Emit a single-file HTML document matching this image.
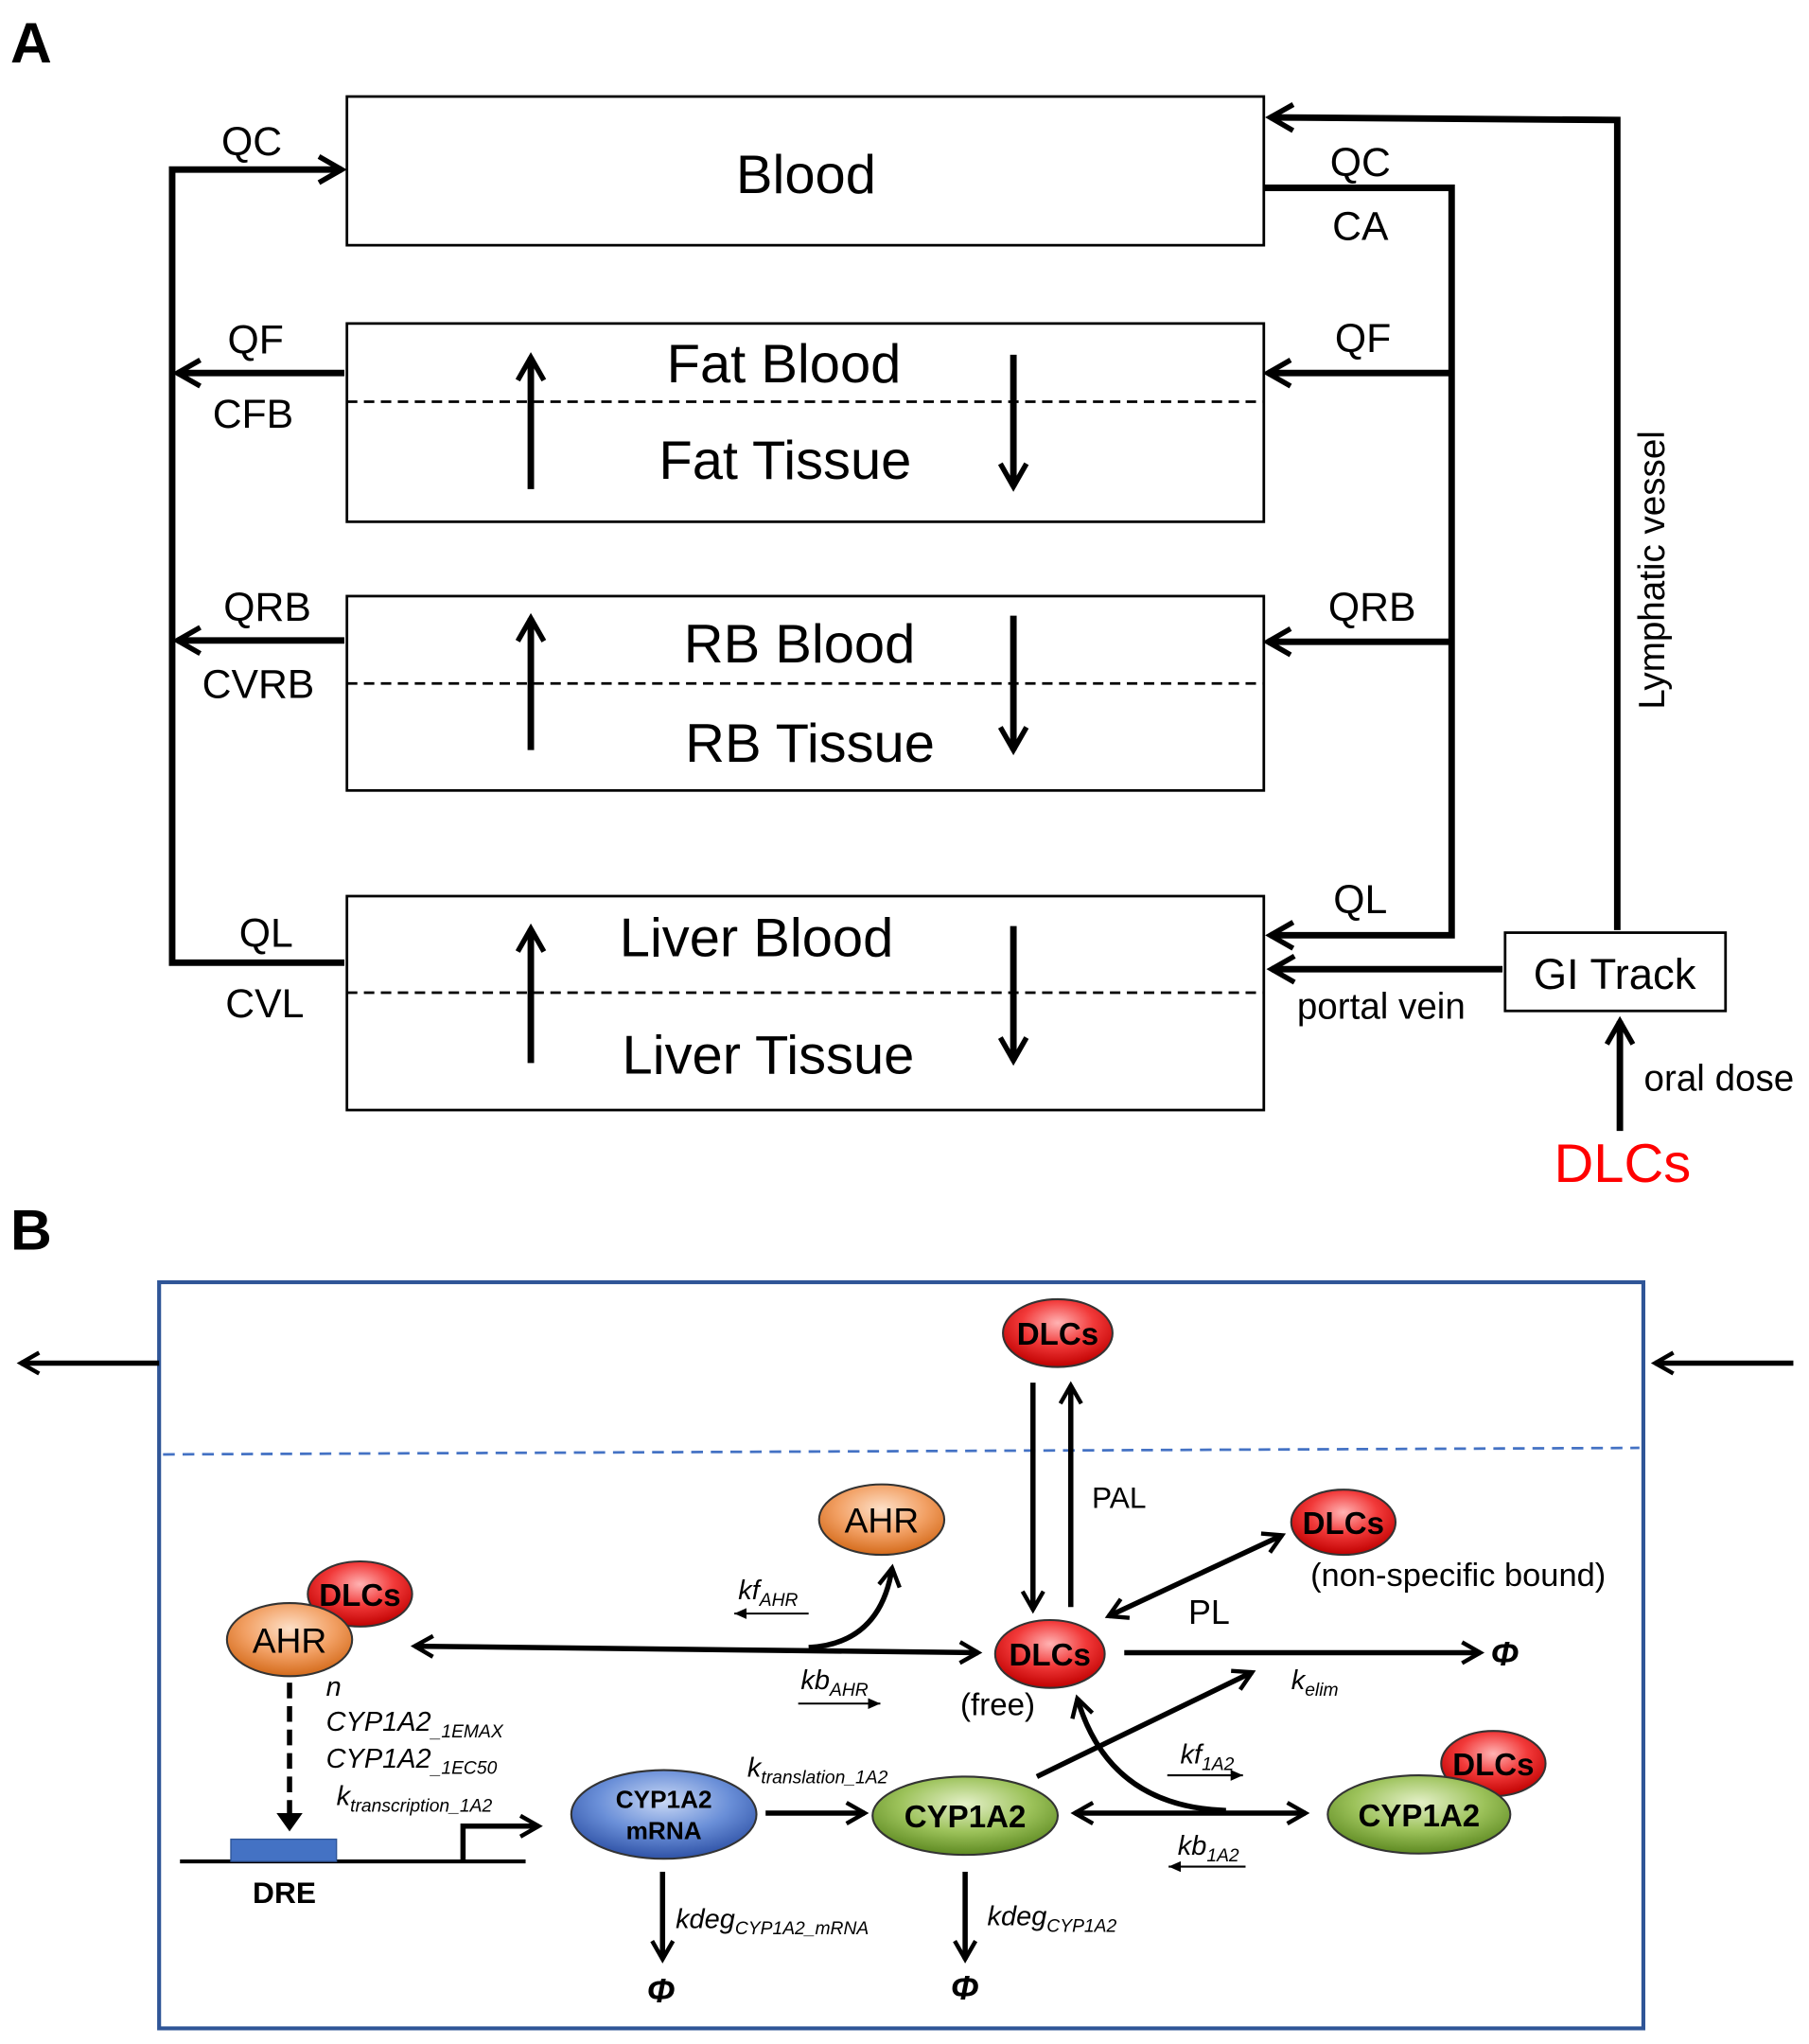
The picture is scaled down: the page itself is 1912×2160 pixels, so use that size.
<!DOCTYPE html>
<html><head><meta charset="utf-8"><style>
html,body{margin:0;padding:0;background:#fff}
svg{display:block}
text{font-family:"Liberation Sans",Arial,sans-serif}
</style></head><body>
<svg width="1912" height="2160" viewBox="0 0 1387 1567" preserveAspectRatio="none" xmlns="http://www.w3.org/2000/svg">
<defs>
<marker id="ah" viewBox="0 0 10 10" refX="8" refY="5" markerWidth="5" markerHeight="5" orient="auto-start-reverse" markerUnits="strokeWidth"><path d="M1,1 L8,5 L1,9" fill="none" stroke="#000" stroke-width="1.6"/></marker>
<marker id="as" viewBox="0 0 10 10" refX="9" refY="5" markerWidth="7" markerHeight="7" orient="auto-start-reverse" markerUnits="strokeWidth"><path d="M0,1 L9,5 L0,9 Z" fill="#000"/></marker>
<radialGradient id="gr" cx="50%" cy="35%" r="65%"><stop offset="0" stop-color="#ffb3b3"/><stop offset="0.5" stop-color="#f23a3a"/><stop offset="1" stop-color="#c00000"/></radialGradient>
<radialGradient id="go" cx="50%" cy="35%" r="65%"><stop offset="0" stop-color="#fde0c8"/><stop offset="0.55" stop-color="#f2a064"/><stop offset="1" stop-color="#d46a1a"/></radialGradient>
<radialGradient id="gb" cx="50%" cy="35%" r="65%"><stop offset="0" stop-color="#c9d8f5"/><stop offset="0.55" stop-color="#6a8fd8"/><stop offset="1" stop-color="#2f52a6"/></radialGradient>
<radialGradient id="gg" cx="50%" cy="35%" r="65%"><stop offset="0" stop-color="#e4f0c8"/><stop offset="0.55" stop-color="#9cc25a"/><stop offset="1" stop-color="#5e8a22"/></radialGradient>
</defs>

<!-- Part A -->
<text x="8" y="48" font-size="44" font-weight="bold">A</text>
<g fill="none" stroke="#000" stroke-width="2">
<rect x="266" y="74" width="703" height="114"/>
<rect x="266" y="248" width="703" height="152"/>
<rect x="266" y="457" width="703" height="149"/>
<rect x="266" y="687" width="703" height="164"/>
<rect x="1154" y="715" width="169" height="60"/>
</g>
<g stroke="#000" stroke-width="2" stroke-dasharray="8,5">
<line x1="266" y1="308" x2="969" y2="308"/>
<line x1="266" y1="524" x2="969" y2="524"/>
<line x1="266" y1="761" x2="969" y2="761"/>
</g>
<g font-size="42" text-anchor="middle">
<text x="618" y="148">Blood</text>
<text x="601" y="293">Fat Blood</text>
<text x="602" y="367">Fat Tissue</text>
<text x="613" y="508">RB Blood</text>
<text x="621" y="584">RB Tissue</text>
<text x="580" y="733">Liver Blood</text>
<text x="589" y="823">Liver Tissue</text>
</g>
<g stroke="#000" stroke-width="5" fill="none" marker-end="url(#ah)">
<line x1="407" y1="375" x2="407" y2="274"/>
<line x1="777" y1="272" x2="777" y2="373"/>
<line x1="407" y1="575" x2="407" y2="474"/>
<line x1="777" y1="472" x2="777" y2="575"/>
<line x1="407" y1="815" x2="407" y2="712"/>
<line x1="777" y1="710" x2="777" y2="813"/>
<path d="M264,738 L132,738 L132,130 L262,130"/>
<line x1="264" y1="286" x2="136" y2="286"/>
<line x1="264" y1="491" x2="136" y2="491"/>
<path d="M969,144 L1113,144 L1113,717 L974,717"/>
<line x1="1113" y1="286" x2="972" y2="286"/>
<line x1="1113" y1="492" x2="972" y2="492"/>
<line x1="1152" y1="743" x2="975" y2="743"/>
<path d="M1240,713 L1240,92 L974,90"/>
<line x1="1242" y1="867" x2="1242" y2="783"/>
</g>
<g font-size="31" text-anchor="middle">
<text x="193" y="119">QC</text>
<text x="196" y="271">QF</text>
<text x="194" y="328">CFB</text>
<text x="205" y="476">QRB</text>
<text x="198" y="535">CVRB</text>
<text x="204" y="726">QL</text>
<text x="203" y="780">CVL</text>
<text x="1043" y="135">QC</text>
<text x="1043" y="184">CA</text>
<text x="1045" y="270">QF</text>
<text x="1052" y="476">QRB</text>
<text x="1043" y="700">QL</text>
<text x="1059" y="781" font-size="28">portal vein</text>
<text x="1238" y="758" font-size="33">GI Track</text>
<text x="1318" y="836" font-size="28">oral dose</text>
<text x="1244" y="906" font-size="42" fill="#ff0000">DLCs</text>
<text x="0" y="0" font-size="28" transform="translate(1276,437) rotate(-90)">Lymphatic vessel</text>
</g>

<!-- Part B -->
<text x="8" y="958" font-size="44" font-weight="bold">B</text>
<rect x="122" y="983" width="1138" height="572" fill="none" stroke="#2f5597" stroke-width="3"/>
<line x1="125" y1="1115" x2="1257" y2="1110" stroke="#4472c4" stroke-width="2" stroke-dasharray="9,6"/>
<g stroke="#000" stroke-width="4" fill="none" marker-end="url(#ah)">
<line x1="122" y1="1045" x2="16" y2="1045"/>
<line x1="1375" y1="1045" x2="1269" y2="1045"/>
<line x1="792" y1="1060" x2="792" y2="1234"/>
<line x1="821" y1="1232" x2="821" y2="1062"/>
<line x1="850" y1="1239" x2="983" y2="1177" marker-start="url(#ah)"/>
<line x1="318" y1="1262" x2="750" y2="1267" marker-start="url(#ah)"/>
<path d="M620,1263 Q675,1260 684,1202"/>
<line x1="862" y1="1267" x2="1135" y2="1267"/>
<line x1="587" y1="1390" x2="663" y2="1390"/>
<line x1="824" y1="1390" x2="1001" y2="1390" marker-start="url(#ah)"/>
<path d="M940,1388 Q850,1385 826,1302"/>
<line x1="795" y1="1362" x2="960" y2="1282"/>
<path d="M355,1427 L355,1400 L413,1400"/>
<line x1="508" y1="1435" x2="508" y2="1502"/>
<line x1="740" y1="1435" x2="740" y2="1502"/>
</g>
<line x1="222" y1="1290" x2="222" y2="1395" stroke="#000" stroke-width="4" stroke-dasharray="12,6"/>
<path d="M212,1390 L232,1390 L222,1404 Z" fill="#000"/>
<g stroke="#000" stroke-width="1.5" marker-end="url(#as)">
<line x1="620" y1="1237" x2="563" y2="1237"/>
<line x1="612" y1="1306" x2="675" y2="1306"/>
<line x1="895" y1="1361" x2="953" y2="1361"/>
<line x1="955" y1="1431" x2="896" y2="1431"/>
</g>
<line x1="138" y1="1427" x2="403" y2="1427" stroke="#000" stroke-width="3"/>
<rect x="177" y="1410" width="81" height="17" fill="#4472c4" stroke="#2f5597"/>

<g stroke="#333" stroke-width="1.5">
<ellipse cx="811" cy="1022" rx="42" ry="26" fill="url(#gr)"/>
<ellipse cx="1030" cy="1167" rx="40" ry="25" fill="url(#gr)"/>
<ellipse cx="676" cy="1165" rx="48" ry="27" fill="url(#go)"/>
<ellipse cx="805" cy="1268" rx="42" ry="26" fill="url(#gr)"/>
<ellipse cx="276" cy="1222" rx="40" ry="25" fill="url(#gr)"/>
<ellipse cx="222" cy="1257" rx="48" ry="28" fill="url(#go)"/>
<ellipse cx="509" cy="1391" rx="71" ry="34" fill="url(#gb)"/>
<ellipse cx="740" cy="1392" rx="71" ry="30" fill="url(#gg)"/>
<ellipse cx="1145" cy="1352" rx="40" ry="25" fill="url(#gr)"/>
<ellipse cx="1088" cy="1391" rx="70" ry="30" fill="url(#gg)"/>
</g>
<g text-anchor="middle" font-weight="bold" font-size="24">
<text x="811" y="1031">DLCs</text>
<text x="1030" y="1176">DLCs</text>
<text x="805" y="1277">DLCs</text>
<text x="276" y="1231">DLCs</text>
<text x="1145" y="1361">DLCs</text>
<text x="740" y="1401">CYP1A2</text>
<text x="1088" y="1400">CYP1A2</text>
<text x="509" y="1386" font-size="19">CYP1A2</text>
<text x="509" y="1410" font-size="19">mRNA</text>
<text x="218" y="1459" font-size="23">DRE</text>
</g>
<g text-anchor="middle" font-size="27">
<text x="676" y="1175">AHR</text>
<text x="222" y="1267">AHR</text>
</g>
<g font-size="23">
<text x="858" y="1156" text-anchor="middle">PAL</text>
<text x="927" y="1245" text-anchor="middle" font-size="26">PL</text>
<text x="1118" y="1216" text-anchor="middle" font-size="25">(non-specific bound)</text>
<text x="765" y="1315" text-anchor="middle" font-size="24">(free)</text>
<text x="1143" y="1277" font-size="26" font-weight="bold" font-style="italic">Φ</text>
<text x="496" y="1535" font-size="26" font-weight="bold" font-style="italic">Φ</text>
<text x="729" y="1533" font-size="26" font-weight="bold" font-style="italic">Φ</text>
</g>
<g font-style="italic" font-size="21">
<text x="566" y="1226">kf<tspan font-size="14" dy="5">AHR</tspan></text>
<text x="614" y="1295">kb<tspan font-size="14" dy="5">AHR</tspan></text>
<text x="990" y="1295">k<tspan font-size="14" dy="5">elim</tspan></text>
<text x="250" y="1300">n</text>
<text x="250" y="1327">CYP1A2<tspan font-size="14" dy="5">_1EMAX</tspan></text>
<text x="250" y="1355">CYP1A2<tspan font-size="14" dy="5">_1EC50</tspan></text>
<text x="258" y="1384">k<tspan font-size="14" dy="5">transcription_1A2</tspan></text>
<text x="573" y="1362">k<tspan font-size="14" dy="5">translation_1A2</tspan></text>
<text x="905" y="1352">kf<tspan font-size="14" dy="5">1A2</tspan></text>
<text x="903" y="1422">kb<tspan font-size="14" dy="5">1A2</tspan></text>
<text x="518" y="1478">kdeg<tspan font-size="14" dy="5">CYP1A2_mRNA</tspan></text>
<text x="757" y="1476">kdeg<tspan font-size="14" dy="5">CYP1A2</tspan></text>
</g>
</svg>
</body></html>
